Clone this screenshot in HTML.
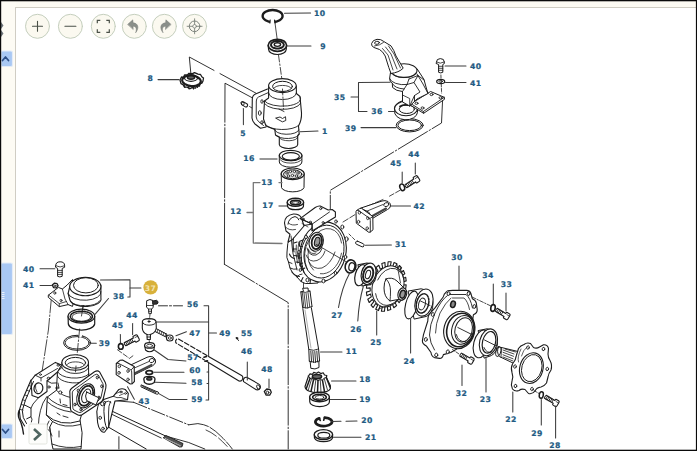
<!DOCTYPE html>
<html><head><meta charset="utf-8"><title>Parts diagram</title>
<style>
html,body{margin:0;padding:0;background:#fff;overflow:hidden}
#wrap{position:relative;width:697px;height:451px;overflow:hidden;background:#fff}
svg{position:absolute;left:0;top:0}
.lb{font-family:"DejaVu Sans","Liberation Sans",sans-serif;font-weight:bold;font-size:7.7px;letter-spacing:0.4px;fill:#225a82;stroke:#225a82;stroke-width:0.22px}
</style></head><body><div id="wrap">
<svg width="697" height="451" viewBox="0 0 697 451" stroke-linecap="round" stroke-linejoin="round">
<rect x="0" y="0" width="697" height="451" fill="#fff"/>
<rect x="0" y="0" width="697" height="7.5" fill="#fcfaf2"/>
<rect x="1" y="7" width="696" height="1" fill="#cfccc2"/>
<rect x="0" y="0" width="15.5" height="451" fill="#fdfbf4"/>
<rect x="15" y="7" width="1" height="444" fill="#d0cdc4"/>
<path d="M1,22 l2.5,3.5 l-2.5,3.5 z M1,30 l2.5,3.5 l-2.5,3.5 z" fill="#6d747a" stroke="none"/>
<rect x="1" y="51" width="11.5" height="15.5" rx="1.5" fill="#a9c8f3" stroke="#e4ecf7" stroke-width="1.2"/>
<polyline points="2.5,60.5 5.5,57 8.5,60.5" fill="none" stroke="#2d4f86" stroke-width="1.7"/>
<rect x="1" y="263" width="11.5" height="71.5" rx="1.5" fill="#a9c8f3" stroke="#e4ecf7" stroke-width="1.2"/>
<rect x="1.5" y="292" width="3" height="1" fill="#e8f0fb"/>
<rect x="1.5" y="294" width="3" height="1" fill="#e8f0fb"/>
<rect x="1.5" y="296" width="3" height="1" fill="#e8f0fb"/>
<rect x="1.5" y="298" width="3" height="1" fill="#e8f0fb"/>
<rect x="1" y="424" width="11.5" height="14.5" rx="1.5" fill="#a9c8f3" stroke="#e4ecf7" stroke-width="1.2"/>
<polyline points="2.5,429.5 5.5,433 8.5,429.5" fill="none" stroke="#2d4f86" stroke-width="1.7"/>
<rect x="0" y="0" width="697" height="1.3" fill="#0a0a0a"/>
<rect x="0" y="0" width="1.2" height="451" fill="#0a0a0a"/>
<rect x="695.9" y="0" width="1.1" height="451" fill="#0a0a0a"/>
<rect x="0" y="449.7" width="697" height="1.3" fill="#0a0a0a"/>
<circle cx="37.5" cy="26.3" r="12" fill="#fbf9f0" stroke="#c5cfbe" stroke-width="1"/>
<circle cx="70.4" cy="26.3" r="12" fill="#fbf9f0" stroke="#c5cfbe" stroke-width="1"/>
<circle cx="103.3" cy="26.3" r="12" fill="#fbf9f0" stroke="#c5cfbe" stroke-width="1"/>
<circle cx="134.3" cy="26.3" r="12" fill="#fbf9f0" stroke="#c5cfbe" stroke-width="1"/>
<circle cx="164.4" cy="26.3" r="12" fill="#fbf9f0" stroke="#c5cfbe" stroke-width="1"/>
<circle cx="194.6" cy="26.3" r="12" fill="#fbf9f0" stroke="#c5cfbe" stroke-width="1"/>
<path d="M32.5,26.3 h10 M37.5,21.3 v10" stroke="#4a5048" stroke-width="1.1" fill="none"/>
<path d="M64.9,26.3 h11" stroke="#4a5048" stroke-width="1.1" fill="none"/>
<path d="M97.3,23.3 v-3 h3 M106.3,20.3 h3 v3 M109.3,29.3 v3 h-3 M100.3,32.3 h-3 v-3" stroke="#4a5048" stroke-width="1.2" fill="none" stroke-linecap="butt" stroke-linejoin="miter"/>
<path d="M127.80000000000001,24.3 l5,-4.5 l0.3,3 c5,0.5 6.5,5 2.5,10 c1.5,-4 0.5,-6.5 -2.6,-6.6 l0.2,3 z" fill="#8a8f8a" stroke="#7a7f7a" stroke-width="0.5"/>
<path d="M170.9,24.3 l-5,-4.5 l-0.3,3 c-5,0.5 -6.5,5 -2.5,10 c-1.5,-4 -0.5,-6.5 2.6,-6.6 l-0.2,3 z" fill="#8a8f8a" stroke="#7a7f7a" stroke-width="0.5"/>
<circle cx="194.6" cy="26.3" r="5.3" fill="none" stroke="#7c827c" stroke-width="1"/>
<circle cx="194.6" cy="26.3" r="1.8" fill="none" stroke="#7c827c" stroke-width="0.8"/>
<path d="M187.1,26.3 h5.5 M196.6,26.3 h5.5 M194.6,18.8 v5.5 M194.6,28.3 v5.5" stroke="#7c827c" stroke-width="0.9" fill="none"/>
<polyline points="191,75 189.3,57 214,70.4" fill="none" stroke="#1c1c1c" stroke-width="0.9"/>
<polyline points="220,73.6 256,93.2" fill="none" stroke="#1c1c1c" stroke-width="0.9"/>
<polyline points="252.3,97.8 225,83.2 224.4,264.3" fill="none" stroke="#1c1c1c" stroke-width="0.9" stroke-dasharray="70 2 1.5 2"/>
<polyline points="224.4,264.3 288.2,302.6 288.2,449" fill="none" stroke="#1c1c1c" stroke-width="0.9" stroke-dasharray="35 2 1.5 2"/>
<ellipse cx="272.6" cy="16" rx="10" ry="6" fill="none" stroke="#1c1c1c" stroke-width="2.3"/>
<rect x="270.2" y="19" width="4.3" height="5" fill="#fff"/>
<path d="M270.2,20 l-0.3,3.2 M274.6,20.3 l0.5,2.8" fill="none" stroke="#1c1c1c" stroke-width="1" />
<line x1="274.6" y1="20" x2="277.2" y2="39.5" stroke="#1c1c1c" stroke-width="0.8"/>
<line x1="284.5" y1="13.3" x2="310.6" y2="13.1" stroke="#3c3c3c" stroke-width="1.05"/>
<path d="M268.2,45.5 L268.6,49.5 A8.8,5 0 0 0 286.2,49.5 L286.6,45.5 Z" fill="#fff" stroke="#1c1c1c" stroke-width="1.2" />
<ellipse cx="277.4" cy="45.3" rx="9.2" ry="6" fill="#fff" stroke="#1c1c1c" stroke-width="1.7"/>
<ellipse cx="277.4" cy="44.8" rx="6.4" ry="3.8" fill="#fff" stroke="#1c1c1c" stroke-width="2" stroke-dasharray="1.8 1"/>
<ellipse cx="277.4" cy="44.6" rx="3.2" ry="1.8" fill="#fff" stroke="#1c1c1c" stroke-width="1.4"/>
<line x1="287" y1="46" x2="311" y2="46" stroke="#3c3c3c" stroke-width="1.05"/>
<line x1="278.5" y1="55" x2="282" y2="80" stroke="#1c1c1c" stroke-width="0.8" stroke-dasharray="7 2 1.5 2"/>
<line x1="158" y1="79.6" x2="179" y2="79.6" stroke="#3c3c3c" stroke-width="1.05"/>
<path d="M180,80 l1.5,-3 l2,0.5 l1,-2.5 l3,0 l1,-1.5 l4,0.2 l2,-1 l3.5,1.5 l2.5,0.3 l1.5,2.5 l1.5,1 l-0.5,3 l-1,2 l-2,0.5 l-0.5,2.5 l-3,0.2 l-1,2 l-3.5,-0.5 l-2,1 l-3,-1.5 l-2.5,0 l-1.5,-2.5 l-2,-1 z" fill="#fff" stroke="#1c1c1c" stroke-width="1.3" />
<ellipse cx="191.5" cy="80.8" rx="9.3" ry="5.2" fill="none" stroke="#1c1c1c" stroke-width="2.2" transform="rotate(5 191.5 80.8)" stroke-dasharray="2.6 1.1"/>
<ellipse cx="191" cy="78" rx="6.5" ry="3.3" fill="none" stroke="#1c1c1c" stroke-width="1.2"/>
<ellipse cx="191" cy="77.5" rx="3.6" ry="1.8" fill="#666" stroke="#1c1c1c" stroke-width="1.4"/>
<path d="M184,85 l1,2.5 M188.5,86.5 l0.5,2.5 M193.5,86.5 l0,2.5 M198,85 l-0.5,2.5 M201,82 l-1,2" fill="none" stroke="#1c1c1c" stroke-width="1.2" />
<path d="M241.6,104.6 l3.8,2.3 a1.7,2 0 0 0 2.1,-2.7 l-3.8,-2.3 a1.7,2 0 0 0 -2.1,2.7 z" fill="#fff" stroke="#1c1c1c" stroke-width="1.1" />
<ellipse cx="242.6" cy="103.3" rx="1.5" ry="2" fill="none" stroke="#1c1c1c" stroke-width="0.8" transform="rotate(-30 242.6 103.3)"/>
<line x1="243.4" y1="108.5" x2="243.4" y2="124.6" stroke="#3c3c3c" stroke-width="1.05"/>
<line x1="249.5" y1="106.5" x2="252" y2="108" stroke="#1c1c1c" stroke-width="0.8"/>
<path d="M267.5,89 L255.5,94 Q252.3,95.5 252.3,99 L252,118 Q252.3,121.5 255,124 L260.5,128.3 L266,127" fill="#fff" stroke="#1c1c1c" stroke-width="1.1" />
<path d="M268.5,92.5 L258.5,97 Q256.3,98 256.3,101 L256.2,117 Q256.5,119.8 258.8,121.8 L263.5,125.5" fill="none" stroke="#1c1c1c" stroke-width="0.9" />
<ellipse cx="259.8" cy="113" rx="1.4" ry="2.3" fill="none" stroke="#1c1c1c" stroke-width="0.9"/>
<ellipse cx="262" cy="122.3" rx="1.2" ry="1.6" fill="none" stroke="#1c1c1c" stroke-width="0.9"/>
<ellipse cx="262" cy="101.5" rx="1.2" ry="1.8" fill="none" stroke="#1c1c1c" stroke-width="0.9"/>
<path d="M268.6,86 L268.6,98 L264.5,101 L263.5,119 L266,126 L274.8,129.5 L275.5,135 L279.3,137 L279.3,144.5 A9.2,4 0 0 0 297.7,144.5 L297.7,135.5 L299.2,134 L298.5,126 Q301.8,120 301.5,113 L300,96.5 L296.4,93.5 L296.3,86 Z" fill="#fff" stroke="#1c1c1c" stroke-width="1.1" />
<ellipse cx="282.4" cy="85.6" rx="13.8" ry="7" fill="#fff" stroke="#1c1c1c" stroke-width="1.1"/>
<ellipse cx="282.5" cy="86.4" rx="9.9" ry="5.1" fill="none" stroke="#1c1c1c" stroke-width="1"/>
<path d="M273.5,88.5 A9.5,4.5 0 0 1 291.5,88.5" fill="none" stroke="#1c1c1c" stroke-width="0.8" />
<path d="M268.6,93 A13.8,6.5 0 0 0 296.4,93" fill="none" stroke="#1c1c1c" stroke-width="0.9" />
<path d="M264.5,101 A18,7 0 0 0 300,97" fill="none" stroke="#1c1c1c" stroke-width="0.9" />
<path d="M265,104 A18,7 0 0 0 300.3,100.5" fill="none" stroke="#1c1c1c" stroke-width="0.9" />
<path d="M266,125 A17,6 0 0 0 298.5,125.5" fill="none" stroke="#1c1c1c" stroke-width="0.9" />
<path d="M274.8,129.5 A12,4.5 0 0 0 298.8,130" fill="none" stroke="#1c1c1c" stroke-width="0.9" />
<path d="M275.5,135 A12,4.5 0 0 0 299.2,134" fill="none" stroke="#1c1c1c" stroke-width="0.9" />
<path d="M279.3,137.5 A9.2,3.5 0 0 0 297.7,137" fill="none" stroke="#1c1c1c" stroke-width="0.8" />
<line x1="282.5" y1="89" x2="283.5" y2="109" stroke="#1c1c1c" stroke-width="0.8" stroke-dasharray="6 2 1.5 2"/>
<path d="M279,109 l5,2.5 M276,118 l4,-1 l2.5,1.5 l3,-1.8 l0.3,3.8 l-3,1.2 z" fill="none" stroke="#1c1c1c" stroke-width="0.9" />
<line x1="300" y1="131.8" x2="318" y2="131" stroke="#3c3c3c" stroke-width="1.05"/>
<line x1="260" y1="159" x2="277" y2="159" stroke="#777" stroke-width="1.3"/>
<path d="M279.3,155.5 L279.3,162 A11.3,5.2 0 0 0 301.9,162 L301.9,155.5" fill="#fff" stroke="#1c1c1c" stroke-width="1" />
<ellipse cx="290.6" cy="155.5" rx="11.3" ry="5.2" fill="#fff" stroke="#1c1c1c" stroke-width="1.2"/>
<ellipse cx="290.8" cy="156.3" rx="8.6" ry="3.7" fill="none" stroke="#1c1c1c" stroke-width="1.1"/>
<path d="M283,158.5 A8.5,3.5 0 0 0 299,158.2" fill="none" stroke="#1c1c1c" stroke-width="0.8" />
<path d="M280,159.5 A11.3,5.2 0 0 0 301.5,159.5" fill="none" stroke="#1c1c1c" stroke-width="0.8" />
<path d="M281.2,173.8 L281.5,187.5 A11.3,4.8 0 0 0 304,187.5 L304.2,173.8" fill="#fff" stroke="#1c1c1c" stroke-width="1" />
<ellipse cx="292.7" cy="173.8" rx="11.5" ry="5.8" fill="#fff" stroke="#1c1c1c" stroke-width="1.2"/>
<ellipse cx="292.7" cy="174.2" rx="9.2" ry="4.4" fill="#ddd" stroke="#1c1c1c" stroke-width="1"/>
<ellipse cx="287" cy="173" rx="1.2" ry="1.2" fill="#fff" stroke="#1c1c1c" stroke-width="0.8"/>
<ellipse cx="290.5" cy="171.5" rx="1.2" ry="1.2" fill="#fff" stroke="#1c1c1c" stroke-width="0.8"/>
<ellipse cx="294.5" cy="171.5" rx="1.2" ry="1.2" fill="#fff" stroke="#1c1c1c" stroke-width="0.8"/>
<ellipse cx="298" cy="173" rx="1.2" ry="1.2" fill="#fff" stroke="#1c1c1c" stroke-width="0.8"/>
<ellipse cx="288.5" cy="176" rx="1.2" ry="1.2" fill="#fff" stroke="#1c1c1c" stroke-width="0.8"/>
<ellipse cx="292.5" cy="175.5" rx="1.2" ry="1.2" fill="#fff" stroke="#1c1c1c" stroke-width="0.8"/>
<ellipse cx="296.5" cy="176" rx="1.2" ry="1.2" fill="#fff" stroke="#1c1c1c" stroke-width="0.8"/>
<line x1="279" y1="182.6" x2="282" y2="182.6" stroke="#777" stroke-width="1.3"/>
<polyline points="260,182.6 253.3,182.6 253.3,243 282,243.5" fill="none" stroke="#777" stroke-width="1.3"/>
<line x1="247" y1="212.5" x2="253.3" y2="212.5" stroke="#777" stroke-width="1.3"/>
<line x1="279" y1="206" x2="288" y2="206" stroke="#777" stroke-width="1.3"/>
<path d="M287.2,202.5 L287.6,206.5 A8,3.8 0 0 0 303.4,206.5 L303.6,202.5" fill="#fff" stroke="#1c1c1c" stroke-width="1.2" />
<ellipse cx="295.4" cy="202.3" rx="8.2" ry="4" fill="#fff" stroke="#1c1c1c" stroke-width="1.4"/>
<ellipse cx="295.6" cy="202.5" rx="5.2" ry="2.3" fill="#888" stroke="#1c1c1c" stroke-width="1.4"/>
<ellipse cx="295.6" cy="202.8" rx="3" ry="1.2" fill="#fff" stroke="#1c1c1c" stroke-width="0.7"/>
<polyline points="442.6,100 441.5,123 330.3,190.3 330.3,210" fill="none" stroke="#1c1c1c" stroke-width="0.9" stroke-dasharray="34 2 1.5 2"/>
<ellipse cx="409.7" cy="125.3" rx="13.5" ry="6.6" fill="#fff" stroke="#1c1c1c" stroke-width="1"/>
<ellipse cx="409.7" cy="125.3" rx="11.8" ry="5.3" fill="none" stroke="#1c1c1c" stroke-width="1"/>
<line x1="361" y1="127.6" x2="396" y2="127.6" stroke="#3c3c3c" stroke-width="1.05"/>
<path d="M394.5,111 A11.5,8 0 0 0 417.5,112.5 L417.5,109 A11.5,8 0 0 0 394.5,108 Z" fill="#fff" stroke="#1c1c1c" stroke-width="1" />
<ellipse cx="406" cy="108.5" rx="11.5" ry="7.2" fill="#fff" stroke="#1c1c1c" stroke-width="1.1"/>
<ellipse cx="406.8" cy="109.2" rx="7.6" ry="4.3" fill="#fff" stroke="#1c1c1c" stroke-width="1"/>
<path d="M400,106.5 A7,3 0 0 1 408,105" fill="none" stroke="#1c1c1c" stroke-width="1.8" />
<line x1="388.5" y1="111.5" x2="395" y2="111.5" stroke="#3c3c3c" stroke-width="1.05"/>
<polyline points="390,82.3 358.5,82.5 358.5,111.5 367,111.5" fill="none" stroke="#3c3c3c" stroke-width="1.05"/>
<line x1="351" y1="97" x2="358.5" y2="97" stroke="#3c3c3c" stroke-width="1.05"/>
<path d="M411,103.7 L430.6,91.5 L444.3,97.3 L444.5,99.3 L423.6,113.3 L411,105.5 Z" fill="#fff" stroke="#1c1c1c" stroke-width="1" />
<polyline points="411,103.7 423.4,111.5 444.3,97.3" fill="none" stroke="#1c1c1c" stroke-width="0.9"/>
<line x1="423.4" y1="111.5" x2="423.6" y2="113.3" stroke="#1c1c1c" stroke-width="0.8"/>
<ellipse cx="416.5" cy="103.3" rx="1.5" ry="1.1" fill="none" stroke="#1c1c1c" stroke-width="0.9"/>
<ellipse cx="422.5" cy="108" rx="1.5" ry="1.1" fill="none" stroke="#1c1c1c" stroke-width="0.9"/>
<ellipse cx="431.5" cy="94.5" rx="1.5" ry="1.1" fill="none" stroke="#1c1c1c" stroke-width="0.9"/>
<ellipse cx="440.5" cy="97.8" rx="1.5" ry="1.1" fill="none" stroke="#1c1c1c" stroke-width="0.9"/>
<path d="M391,69 L389.6,78.5 Q389.5,81.5 392.3,83.5 L392.6,87.5 Q396,91 402.5,91.5 L402.5,102 L409.7,106 L417,99 L428,93.5 L426.3,88 L424,79.5 L417.2,69 Z" fill="#fff" stroke="#1c1c1c" stroke-width="1" />
<ellipse cx="404" cy="70.6" rx="13" ry="6.8" fill="#fff" stroke="#1c1c1c" stroke-width="1.1"/>
<path d="M391.5,72.5 A13,6.8 0 0 0 416,73.5" fill="none" stroke="#1c1c1c" stroke-width="0.9" />
<path d="M389.6,78.5 A14,7 0 0 0 407,84.5" fill="none" stroke="#1c1c1c" stroke-width="0.9" />
<path d="M392.4,83.5 A14,7 0 0 0 404,89" fill="none" stroke="#1c1c1c" stroke-width="0.9" />
<polyline points="409,79 407,84.5 402.5,91.5" fill="none" stroke="#1c1c1c" stroke-width="0.9"/>
<polyline points="409,79 418,75.5 424,80" fill="none" stroke="#1c1c1c" stroke-width="0.9"/>
<polyline points="407,84.5 414,82.5 420,92 414.5,95.5 409.7,106" fill="none" stroke="#1c1c1c" stroke-width="0.9"/>
<polyline points="414,82.5 418,75.5" fill="none" stroke="#1c1c1c" stroke-width="0.9"/>
<polyline points="417,74 423,84 428,93.5" fill="none" stroke="#1c1c1c" stroke-width="0.9"/>
<polyline points="414.5,95.5 414.5,101.5" fill="none" stroke="#1c1c1c" stroke-width="0.9"/>
<polyline points="402.5,95 409.7,98.5 409.7,106" fill="none" stroke="#1c1c1c" stroke-width="0.8"/>
<path d="M391,73.5 L388.8,67.5 L385.2,56 Q383,51.5 379.5,49.5 L374,47.5 Q371,46 371.6,43.5 Q372.5,40 377,39.3 Q381,39 383.8,41.5 L391,45.9 Q394,50 396,56 L403.2,68.2 Q399,72.5 391,73.5 Z" fill="#fff" stroke="#1c1c1c" stroke-width="1" />
<ellipse cx="377" cy="42.8" rx="2.4" ry="1.5" fill="none" stroke="#1c1c1c" stroke-width="0.9" transform="rotate(-10 377 42.8)"/>
<path d="M374.5,46 Q380,45.5 383.5,42.5" fill="none" stroke="#1c1c1c" stroke-width="0.8" />
<polyline points="382.5,48.5 388,55 393,70" fill="none" stroke="#1c1c1c" stroke-width="0.8"/>
<polyline points="385.5,47 391,54 397,69" fill="none" stroke="#1c1c1c" stroke-width="0.8"/>
<polyline points="388.5,46 394,54 400.5,68" fill="none" stroke="#1c1c1c" stroke-width="0.8"/>
<path d="M436.4,62 Q436.4,58.6 440.3,58.6 Q444.3,58.6 444.3,62 L444.3,63.6 L442.8,64.5 L442.8,72.3 Q440.7,73.5 438.6,72.3 L438.6,64.5 L436.4,63.6 Z" fill="#fff" stroke="#1c1c1c" stroke-width="1" />
<path d="M436.4,62 Q440.3,64.5 444.3,62 M438.6,66.3 h4.2 M438.6,68.3 h4.2 M438.6,70.3 h4.2" fill="none" stroke="#1c1c1c" stroke-width="0.8" />
<line x1="445" y1="66" x2="466" y2="66" stroke="#3c3c3c" stroke-width="1.05"/>
<ellipse cx="440.7" cy="81.5" rx="4" ry="2.2" fill="#fff" stroke="#1c1c1c" stroke-width="1.2"/>
<ellipse cx="440.7" cy="81.5" rx="1.8" ry="0.9" fill="none" stroke="#1c1c1c" stroke-width="0.8"/>
<line x1="445.5" y1="82.5" x2="466" y2="82.5" stroke="#3c3c3c" stroke-width="1.05"/>
<line x1="440.9" y1="75" x2="441.6" y2="93" stroke="#1c1c1c" stroke-width="0.8" stroke-dasharray="3 1.5"/>
<path d="M291,236 Q286.5,243 287,252 Q286,258 288.5,262 L290,268 Q292,274 297,277 L301,281.5 Q305,284.5 310,283.5 L318,283 L330,215 L313,224 L300.5,226 Z" fill="#fff" stroke="#1c1c1c" stroke-width="1" />
<ellipse cx="323" cy="252" rx="22.8" ry="30.3" fill="#fff" stroke="#1c1c1c" stroke-width="1.1" transform="rotate(14 323 252)"/>
<ellipse cx="324" cy="251.6" rx="19.6" ry="26.8" fill="none" stroke="#1c1c1c" stroke-width="0.9" transform="rotate(14 324 251.6)"/>
<ellipse cx="325" cy="251.2" rx="16.5" ry="23" fill="none" stroke="#1c1c1c" stroke-width="0.7" transform="rotate(14 325 251.2)" stroke-dasharray="30 8 22 12 40 10"/>
<path d="M284.5,223 Q284.5,215.5 293.5,214 Q299.5,213.8 301.5,218 L304,226 L292,240 L288,242 L290,234.2 L286,231 Z" fill="#fff" stroke="#1c1c1c" stroke-width="1.1" />
<path d="M288,224.2 Q288.5,218 295,216.6 Q298,217 298.8,219.8" fill="none" stroke="#1c1c1c" stroke-width="1" />
<path d="M285.5,227 Q289,231 295.5,229.5 M289,223.5 Q292,226 297.5,224.5" fill="none" stroke="#1c1c1c" stroke-width="0.8" />
<path d="M300.1,218.6 Q307,213.5 315.2,207.5 Q318,205.6 320.2,206 L328.2,210 L332.2,209.5 L335.4,212 L335.4,217 L312.1,231 L312.1,224.1 Z" fill="#fff" stroke="#1c1c1c" stroke-width="1.1" />
<polyline points="300.1,218.6 312.1,224.1 329.5,212" fill="none" stroke="#1c1c1c" stroke-width="0.9"/>
<line x1="312.1" y1="224.1" x2="312.1" y2="230.5" stroke="#1c1c1c" stroke-width="0.95"/>
<polyline points="302,223.5 308,227" fill="none" stroke="#1c1c1c" stroke-width="0.7"/>
<ellipse cx="303.1" cy="219.1" rx="1.1" ry="1" fill="none" stroke="#1c1c1c" stroke-width="0.9"/>
<ellipse cx="310.4" cy="222.2" rx="1.1" ry="1" fill="none" stroke="#1c1c1c" stroke-width="0.9"/>
<ellipse cx="320.7" cy="208.6" rx="1.1" ry="1" fill="none" stroke="#1c1c1c" stroke-width="0.9"/>
<ellipse cx="323.2" cy="222.6" rx="1.1" ry="1" fill="none" stroke="#1c1c1c" stroke-width="0.9"/>
<path d="M307,236.5 Q301,246 301,254 Q301,264 304,272.5" fill="none" stroke="#1c1c1c" stroke-width="1" />
<path d="M309.5,239 Q304.5,247 304.5,255 Q304.5,263 307.5,270" fill="none" stroke="#1c1c1c" stroke-width="0.8" />
<path d="M309,262 Q313,270 322,268 Q331,264 335,252" fill="none" stroke="#1c1c1c" stroke-width="0.8" />
<ellipse cx="316.2" cy="241.8" rx="7" ry="9.6" fill="#fff" stroke="#1c1c1c" stroke-width="1.1" transform="rotate(14 316.2 241.8)"/>
<ellipse cx="316.8" cy="241.8" rx="5" ry="7.4" fill="#fff" stroke="#1c1c1c" stroke-width="1.8" transform="rotate(14 316.8 241.8)"/>
<ellipse cx="317.2" cy="241.8" rx="2.6" ry="4.6" fill="#999" stroke="#1c1c1c" stroke-width="1.2" transform="rotate(14 317.2 241.8)"/>
<path d="M307,248 Q309,256.5 316,255 Q321,253 322,248.5" fill="none" stroke="#1c1c1c" stroke-width="0.9" />
<path d="M309,250.5 Q311,255 316,253" fill="none" stroke="#1c1c1c" stroke-width="0.8" />
<path d="M306,255 Q309,263 317,260.5 Q323,258 325,251" fill="none" stroke="#1c1c1c" stroke-width="0.8" />
<path d="M303,240 l-3.2,1.2 l-0.3,5 l3,0.3 M300.8,252 l-3,1 l0.5,5.2 l3.2,-0.4 M302.5,263 l-2.5,1.8 l2,4.6 l2.8,-1.4" fill="none" stroke="#1c1c1c" stroke-width="1.1" />
<path d="M298.8,242 Q296.8,252 300,266 M296.3,245 Q295,253 297.5,263" fill="none" stroke="#1c1c1c" stroke-width="0.8" />
<path d="M291,236 Q291.5,252 297,270 M288.5,262 L292,263.5 M290,268 Q294,270 297,269 M297,277 Q299,274 302,274" fill="none" stroke="#1c1c1c" stroke-width="0.9" />
<path d="M293.5,238 Q292.5,246 294,252 M289.5,254 Q291,258 294.5,258.5 M292,272 Q295,276 299.5,276.5 M301,281.5 L303,277.5 M310,283.5 L310.5,279.5" fill="none" stroke="#1c1c1c" stroke-width="1.1" />
<path d="M294,243 l3,-1 M293.3,249 l3,0 M294.5,255.5 l3,0.5 M296,262 l3,0.3" fill="none" stroke="#1c1c1c" stroke-width="1.2" />
<ellipse cx="307.5" cy="280" rx="1.6" ry="1.9" fill="#fff" stroke="#1c1c1c" stroke-width="0.9"/>
<ellipse cx="323.5" cy="281" rx="1.6" ry="1.9" fill="#fff" stroke="#1c1c1c" stroke-width="0.9"/>
<ellipse cx="346.6" cy="239" rx="1.5" ry="2.2" fill="#fff" stroke="#1c1c1c" stroke-width="0.9"/>
<ellipse cx="342.3" cy="227" rx="1.5" ry="2" fill="#fff" stroke="#1c1c1c" stroke-width="0.9"/>
<ellipse cx="336" cy="221.5" rx="1.3" ry="1.6" fill="#fff" stroke="#1c1c1c" stroke-width="0.9"/>
<ellipse cx="306" cy="237" rx="1.4" ry="1.8" fill="#fff" stroke="#1c1c1c" stroke-width="0.9"/>
<ellipse cx="345.5" cy="257" rx="1.3" ry="1.8" fill="#fff" stroke="#1c1c1c" stroke-width="0.9"/>
<ellipse cx="335.5" cy="273" rx="1.3" ry="1.6" fill="#fff" stroke="#1c1c1c" stroke-width="0.9"/>
<ellipse cx="300.3" cy="270" rx="1.2" ry="1.5" fill="#fff" stroke="#1c1c1c" stroke-width="0.9"/>
<ellipse cx="299" cy="252" rx="1.2" ry="1.6" fill="#fff" stroke="#1c1c1c" stroke-width="0.9"/>
<line x1="316.5" y1="244.5" x2="348" y2="262.8" stroke="#1c1c1c" stroke-width="0.8"/>
<line x1="303.5" y1="283" x2="303.5" y2="288" stroke="#1c1c1c" stroke-width="0.8"/>
<polyline points="343,222 356,214" fill="none" stroke="#1c1c1c" stroke-width="0.8" stroke-dasharray="6 2"/>
<polyline points="362,208.5 383,199.5" fill="none" stroke="#1c1c1c" stroke-width="0.8" stroke-dasharray="9 2 1.5 2"/>
<path d="M361,208 L382,201 Q385,200 388,201.5 Q391,203.5 390.5,206 Q390,208.5 387.5,209.5 L372.4,218.5 L369,212.5 Z" fill="#fff" stroke="#1c1c1c" stroke-width="1" />
<ellipse cx="386.3" cy="204.6" rx="2.6" ry="1.9" fill="none" stroke="#1c1c1c" stroke-width="0.9" transform="rotate(-20 386.3 204.6)"/>
<polyline points="366,211.5 383,204.5" fill="none" stroke="#1c1c1c" stroke-width="0.8"/>
<polyline points="371.5,216.5 386,208.5" fill="none" stroke="#444" stroke-width="2"/>
<path d="M356.8,210.4 L359.5,208.6 L361.5,208.3 L372.8,216.5 L373,229.8 L370.3,232 L368.8,232.3 L356.3,223.2 L356,212 Z" fill="#fff" stroke="#1c1c1c" stroke-width="1" />
<path d="M356.8,210.4 Q358,210 359,210.8 L369.5,218.3 Q370.4,219 370.3,220.5 L370.3,232 M369.8,218.6 L372.8,216.5" fill="none" stroke="#1c1c1c" stroke-width="0.9" />
<ellipse cx="359.4" cy="212.7" rx="1.2" ry="1.5" fill="none" stroke="#1c1c1c" stroke-width="0.8"/>
<ellipse cx="367.8" cy="218.2" rx="1.2" ry="1.5" fill="none" stroke="#1c1c1c" stroke-width="0.8"/>
<ellipse cx="358.6" cy="221.8" rx="1.2" ry="1.5" fill="none" stroke="#1c1c1c" stroke-width="0.8"/>
<ellipse cx="367.2" cy="228.3" rx="1.2" ry="1.5" fill="none" stroke="#1c1c1c" stroke-width="0.8"/>
<line x1="390.8" y1="206" x2="410.5" y2="206" stroke="#3c3c3c" stroke-width="1.05"/>
<polyline points="349,234 356,241" fill="none" stroke="#1c1c1c" stroke-width="0.8" stroke-dasharray="3 2"/>
<path d="M357.6,241.2 l5.8,2.6 a1.4,1.7 0 0 1 -1.3,3 l-5.8,-2.6 a1.4,1.7 0 0 1 1.3,-3 z" fill="#fff" stroke="#1c1c1c" stroke-width="1" />
<line x1="365.5" y1="245.3" x2="391.4" y2="245" stroke="#3c3c3c" stroke-width="1.05"/>
<line x1="415.3" y1="163" x2="415.3" y2="174" stroke="#3c3c3c" stroke-width="1.05"/>
<line x1="402.2" y1="172" x2="402.2" y2="183" stroke="#3c3c3c" stroke-width="1.05"/>
<g transform="translate(405.8 186.3) rotate(-33.2)"><path d="M0,-1.7 L10.6,-1.7 L10.6,-2.5 Q10.6,-3.3 11.4,-3.3 L14.0,-3.3 Q15.2,-3.3 15.2,-1.9 L15.2,1.9 Q15.2,3.3 14.0,3.3 L11.4,3.3 Q10.6,3.3 10.6,2.5 L10.6,1.7 L0,1.7 Q-0.8,0 0,-1.7 Z" fill="#fff" stroke="#1c1c1c" stroke-width="1.1"/><path d="M1.6,-1.7 L1.6,1.7 M3.3,-1.7 L3.3,1.7 M5.0,-1.7 L5.0,1.7 M6.7,-1.7 L6.7,1.7 M8.4,-1.7 L8.4,1.7" fill="none" stroke="#1c1c1c" stroke-width="0.8"/><path d="M12.2,-1.2999999999999998 L15.2,-1.2999999999999998" fill="none" stroke="#1c1c1c" stroke-width="0.7"/></g>
<ellipse cx="402.2" cy="187.3" rx="2.3" ry="3.4" fill="#fff" stroke="#1c1c1c" stroke-width="1.5" transform="rotate(-20 402.2 187.3)"/>
<polyline points="400,190.3 388,197" fill="none" stroke="#1c1c1c" stroke-width="0.8" stroke-dasharray="5 2"/>
<ellipse cx="350.5" cy="266.4" rx="5.3" ry="6.6" fill="#fff" stroke="#1c1c1c" stroke-width="1.6" transform="rotate(12 350.5 266.4)"/>
<ellipse cx="351.8" cy="266.8" rx="2.9" ry="4.1" fill="#fff" stroke="#1c1c1c" stroke-width="1.2" transform="rotate(12 351.8 266.8)"/>
<path d="M349.5,273.5 Q342,287 338.5,307.5" fill="none" stroke="#3c3c3c" stroke-width="1.05" />
<line x1="354.5" y1="268.5" x2="357.5" y2="270.2" stroke="#1c1c1c" stroke-width="0.8"/>
<polygon points="404.7,292.5 403.2,296.2 400.0,294.3 398.5,297.1 401.3,299.6 399.1,302.7 396.7,299.7 394.6,301.9 396.6,305.5 393.8,307.7 392.3,303.7 389.9,305.1 390.8,309.5 387.7,310.6 387.4,306.1 384.9,306.5 384.5,311.2 381.4,311.2 382.4,306.5 380.0,306.0 378.5,310.6 375.7,309.3 377.7,305.0 375.7,303.5 373.2,307.5 371.0,305.2 373.9,301.7 372.4,299.4 369.2,302.5 367.8,299.3 371.3,296.9 370.5,294.0 366.9,295.8 366.4,292.1 370.2,291.0 370.2,287.9 366.4,288.3 366.9,284.4 370.6,284.8 371.4,281.7 367.9,280.5 369.4,276.8 372.6,278.7 374.1,275.9 371.3,273.4 373.5,270.3 375.9,273.3 378.0,271.1 376.0,267.5 378.8,265.3 380.3,269.3 382.7,267.9 381.8,263.5 384.9,262.4 385.2,266.9 387.7,266.5 388.1,261.8 391.2,261.8 390.2,266.5 392.6,267.0 394.1,262.4 396.9,263.7 394.9,268.0 396.9,269.5 399.4,265.5 401.6,267.8 398.7,271.3 400.2,273.6 403.4,270.5 404.8,273.7 401.3,276.1 402.1,279.0 405.7,277.2 406.2,280.9 402.4,282.0 402.4,285.1 406.2,284.7 405.7,288.6 402.0,288.2 401.2,291.3" fill="#fff" stroke="#1c1c1c" stroke-width="1.1"/>
<ellipse cx="388" cy="286.4" rx="15.4" ry="21" fill="#fff" stroke="#1c1c1c" stroke-width="1" transform="rotate(18 388 286.4)"/>
<ellipse cx="389.5" cy="286.8" rx="13.5" ry="19" fill="none" stroke="#1c1c1c" stroke-width="0.8" transform="rotate(18 389.5 286.8)" stroke-dasharray="40 14 30 20"/>
<path d="M386,279 Q392,276.5 397,281 L404.5,288.5 Q407.5,293.5 405,298.5 Q402,301.5 398,299.5 L390,301 Q384,297 384,288 Q384,282 386,279 Z" fill="#fff" stroke="#1c1c1c" stroke-width="1" />
<path d="M386,279 Q390.5,283 390.5,291 Q390.5,297 390,301" fill="none" stroke="#1c1c1c" stroke-width="0.9" />
<ellipse cx="402.3" cy="294" rx="4.3" ry="6.2" fill="#fff" stroke="#1c1c1c" stroke-width="1.1" transform="rotate(15 402.3 294)"/>
<ellipse cx="402.6" cy="294.2" rx="2.6" ry="4" fill="#999" stroke="#1c1c1c" stroke-width="1.5" transform="rotate(15 402.6 294.2)"/>
<path d="M397,264.5 L400.5,283 M399.5,265.5 L404,280" fill="none" stroke="#1c1c1c" stroke-width="0.8" />
<path d="M378.5,309 L392,304" fill="none" stroke="#1c1c1c" stroke-width="0.8" />
<line x1="376.7" y1="311" x2="376.7" y2="335" stroke="#3c3c3c" stroke-width="1.05"/>
<path d="M358,264.8 L367,263 Q376.3,263.8 376.3,273 Q376.3,282.5 370.3,284.5 L362,286 Z" fill="#fff" stroke="#1c1c1c" stroke-width="1.1" />
<ellipse cx="360.8" cy="275.2" rx="5.6" ry="10.8" fill="#fff" stroke="#1c1c1c" stroke-width="1.2" transform="rotate(15 360.8 275.2)"/>
<ellipse cx="368.6" cy="273.8" rx="7.2" ry="10.9" fill="#fff" stroke="#1c1c1c" stroke-width="1.2" transform="rotate(15 368.6 273.8)"/>
<ellipse cx="368.2" cy="274.3" rx="4.8" ry="7.8" fill="none" stroke="#1c1c1c" stroke-width="2" transform="rotate(15 368.2 274.3)" stroke-dasharray="2 1"/>
<ellipse cx="368" cy="274.5" rx="2.4" ry="4.4" fill="none" stroke="#1c1c1c" stroke-width="1" transform="rotate(15 368 274.5)"/>
<path d="M363.3,286.5 Q359,301 357.8,321" fill="none" stroke="#3c3c3c" stroke-width="1.05" />
<path d="M408.5,291 L421,288.8 Q433,290 433,302.5 Q433,314.5 426,316.5 L414.5,319 Z" fill="#fff" stroke="#1c1c1c" stroke-width="1" />
<ellipse cx="411.5" cy="305" rx="6" ry="14.2" fill="#fff" stroke="#1c1c1c" stroke-width="1.1" transform="rotate(14 411.5 305)"/>
<ellipse cx="424" cy="302.6" rx="8.8" ry="13.8" fill="#fff" stroke="#1c1c1c" stroke-width="1.1" transform="rotate(14 424 302.6)"/>
<ellipse cx="422.6" cy="303.4" rx="6" ry="9.8" fill="none" stroke="#1c1c1c" stroke-width="1.5" transform="rotate(14 422.6 303.4)" stroke-dasharray="2.2 1.1"/>
<ellipse cx="422" cy="304" rx="3.3" ry="6" fill="none" stroke="#1c1c1c" stroke-width="1" transform="rotate(14 422 304)"/>
<path d="M420.5,301 L430,305.5" fill="none" stroke="#1c1c1c" stroke-width="0.9" />
<line x1="410.6" y1="318.5" x2="410.6" y2="353" stroke="#3c3c3c" stroke-width="1.05"/>
<path d="M446.1,292.2 Q447.5,290 450,290.6 L452.7,290.4 L465.8,290.4 Q469.5,290 470.8,293.2 L472.4,298.8 Q476,300.5 476.4,303.5 L477.2,309.5 Q477.5,313 473.4,314.8 L470,340 L455.5,349.7 L450.8,352.5 L443.4,354.6 Q442.5,358.5 439.5,358.4 L434.5,357.6 Q431.5,356.5 431,352.5 L426.3,345.9 Q422,344 422.4,340.3 L423.5,334.6 L427.8,321 Q427.8,315 430.3,313 L434.8,308.2 L443.2,297 Q444,293.5 446.1,292.2 Z" fill="#fff" stroke="#1c1c1c" stroke-width="1.1" />
<path d="M447.5,295.5 Q441,300 435,313 Q429.5,325 429.5,335 Q430,343 434.5,350 M449.5,294.5 L466,294.5 Q470.5,298 472.5,308" fill="none" stroke="#1c1c1c" stroke-width="0.9" />
<path d="M451,298 Q445.5,302.5 440,313 Q435.5,324 435.5,333 M452.5,298 L464,298 Q468,301.5 469.5,309.5" fill="none" stroke="#1c1c1c" stroke-width="0.8" />
<ellipse cx="448.6" cy="293.6" rx="1.5" ry="1.9" fill="#fff" stroke="#1c1c1c" stroke-width="0.9" transform="rotate(15 448.6 293.6)"/>
<ellipse cx="468.6" cy="293.6" rx="1.5" ry="1.9" fill="#fff" stroke="#1c1c1c" stroke-width="0.9" transform="rotate(15 468.6 293.6)"/>
<ellipse cx="474.4" cy="306.5" rx="1.5" ry="1.9" fill="#fff" stroke="#1c1c1c" stroke-width="0.9" transform="rotate(15 474.4 306.5)"/>
<ellipse cx="432.8" cy="314.5" rx="1.5" ry="1.9" fill="#fff" stroke="#1c1c1c" stroke-width="0.9" transform="rotate(15 432.8 314.5)"/>
<ellipse cx="425.8" cy="339.5" rx="1.5" ry="1.9" fill="#fff" stroke="#1c1c1c" stroke-width="0.9" transform="rotate(15 425.8 339.5)"/>
<ellipse cx="436.3" cy="355" rx="1.5" ry="1.9" fill="#fff" stroke="#1c1c1c" stroke-width="0.9" transform="rotate(15 436.3 355)"/>
<ellipse cx="447.8" cy="351.8" rx="1.5" ry="1.9" fill="#fff" stroke="#1c1c1c" stroke-width="0.9" transform="rotate(15 447.8 351.8)"/>
<ellipse cx="453" cy="304.3" rx="2.3" ry="3.3" fill="#888" stroke="#1c1c1c" stroke-width="1.5" transform="rotate(15 453 304.3)"/>
<ellipse cx="459.3" cy="330" rx="15.4" ry="18.9" fill="#fff" stroke="#1c1c1c" stroke-width="1.1" transform="rotate(15 459.3 330)"/>
<ellipse cx="460.4" cy="330" rx="13.5" ry="17" fill="none" stroke="#1c1c1c" stroke-width="1.6" transform="rotate(15 460.4 330)"/>
<ellipse cx="462.6" cy="329.8" rx="10.8" ry="14.6" fill="#fff" stroke="#1c1c1c" stroke-width="1" transform="rotate(15 462.6 329.8)"/>
<ellipse cx="463.6" cy="329.8" rx="8.6" ry="12.3" fill="none" stroke="#1c1c1c" stroke-width="1" transform="rotate(15 463.6 329.8)"/>
<path d="M456.3,334.5 Q458.3,342.5 465.3,341.5 M457.8,327.5 L471.8,334.5" fill="none" stroke="#1c1c1c" stroke-width="0.9" />
<line x1="459" y1="266" x2="459" y2="290" stroke="#3c3c3c" stroke-width="1.05"/>
<polyline points="472,297 490.5,305.8" fill="none" stroke="#1c1c1c" stroke-width="0.8" stroke-dasharray="4 1.5 1.5 1.5"/>
<line x1="493.3" y1="284" x2="493.3" y2="304" stroke="#3c3c3c" stroke-width="1.05"/>
<line x1="506" y1="293" x2="506" y2="311" stroke="#3c3c3c" stroke-width="1.05"/>
<ellipse cx="493" cy="308" rx="2.2" ry="3.4" fill="#fff" stroke="#1c1c1c" stroke-width="1.6" transform="rotate(10 493 308)"/>
<g transform="translate(496.3 309.8) rotate(31.0)"><path d="M0,-1.7 L10.0,-1.7 L10.0,-2.5 Q10.0,-3.3 10.8,-3.3 L13.4,-3.3 Q14.6,-3.3 14.6,-1.9 L14.6,1.9 Q14.6,3.3 13.4,3.3 L10.8,3.3 Q10.0,3.3 10.0,2.5 L10.0,1.7 L0,1.7 Q-0.8,0 0,-1.7 Z" fill="#fff" stroke="#1c1c1c" stroke-width="1.1"/><path d="M1.6,-1.7 L1.6,1.7 M3.3,-1.7 L3.3,1.7 M5.0,-1.7 L5.0,1.7 M6.7,-1.7 L6.7,1.7" fill="none" stroke="#1c1c1c" stroke-width="0.8"/><path d="M11.6,-1.2999999999999998 L14.6,-1.2999999999999998" fill="none" stroke="#1c1c1c" stroke-width="0.7"/></g>
<g transform="translate(460.6 354.6) rotate(30.1)"><path d="M0,-1.7 L9.7,-1.7 L9.7,-2.5 Q9.7,-3.3 10.5,-3.3 L13.1,-3.3 Q14.3,-3.3 14.3,-1.9 L14.3,1.9 Q14.3,3.3 13.1,3.3 L10.5,3.3 Q9.7,3.3 9.7,2.5 L9.7,1.7 L0,1.7 Q-0.8,0 0,-1.7 Z" fill="#fff" stroke="#1c1c1c" stroke-width="1.1"/><path d="M1.6,-1.7 L1.6,1.7 M3.3,-1.7 L3.3,1.7 M5.0,-1.7 L5.0,1.7 M6.7,-1.7 L6.7,1.7" fill="none" stroke="#1c1c1c" stroke-width="0.8"/><path d="M11.3,-1.2999999999999998 L14.3,-1.2999999999999998" fill="none" stroke="#1c1c1c" stroke-width="0.7"/></g>
<line x1="462" y1="365" x2="462" y2="385.5" stroke="#3c3c3c" stroke-width="1.05"/>
<polyline points="452.5,349.5 459,354" fill="none" stroke="#1c1c1c" stroke-width="0.8" stroke-dasharray="3 1.5"/>
<path d="M478.5,330.5 L487,328.8 Q497.5,329.5 497.5,341.5 Q497.5,352.5 491.5,355.5 L484.5,358 Z" fill="#fff" stroke="#1c1c1c" stroke-width="1" />
<ellipse cx="481.3" cy="343.9" rx="7.6" ry="14.2" fill="#fff" stroke="#1c1c1c" stroke-width="1.1" transform="rotate(14 481.3 343.9)"/>
<ellipse cx="488.4" cy="342.3" rx="8.8" ry="13.6" fill="#fff" stroke="#1c1c1c" stroke-width="1.1" transform="rotate(14 488.4 342.3)"/>
<ellipse cx="489" cy="342.3" rx="6.5" ry="11" fill="none" stroke="#1c1c1c" stroke-width="1.2" transform="rotate(14 489 342.3)"/>
<path d="M484,347.5 Q486.5,354 492,352 M484.5,340 L495.5,345.5" fill="none" stroke="#1c1c1c" stroke-width="0.9" />
<line x1="486" y1="358.5" x2="486" y2="392" stroke="#3c3c3c" stroke-width="1.05"/>
<path d="M498.6,346.8 L518,351.5 L514,363.5 L499.5,356.6 Q496,352 498.6,346.8 Z" fill="#fff" stroke="#1c1c1c" stroke-width="1" />
<ellipse cx="498.4" cy="351.6" rx="2.4" ry="5" fill="none" stroke="#1c1c1c" stroke-width="0.9" transform="rotate(15 498.4 351.6)"/>
<path d="M501.5,348.3 L501,357.3 M503,350 L514,354 M503,352.3 L513.5,356.3 M503,354.8 L513,358.8 M503,357 L513,361 M505,349 L515.5,352" fill="none" stroke="#1c1c1c" stroke-width="0.8" />
<path d="M524,344.5 Q527,342 530.5,343.5 L533.5,347.5 Q536.5,349 539.5,347 L543.5,344.8 Q547.5,344.5 548.5,348.5 L548,354 Q548,357.5 550,360.5 Q552.5,365 551,370 Q548.5,373.5 548,377 L546.5,383 Q544,386.5 541,387 Q536.5,387.5 535,391 Q532.5,394.5 528.5,393.5 L525,389.5 Q521.5,388.5 519,390.5 Q515,392 512.5,389 Q510.5,385 512,381 Q513.5,376.5 512,372.5 Q510.5,368 512.5,364 Q516,360 516.5,355 L518.5,348.5 Q520.5,345.5 524,344.5 Z" fill="#fff" stroke="#1c1c1c" stroke-width="1.1" />
<ellipse cx="531.4" cy="368.1" rx="11.6" ry="15.6" fill="none" stroke="#1c1c1c" stroke-width="1.1" transform="rotate(16 531.4 368.1)"/>
<ellipse cx="531.8" cy="368.1" rx="10" ry="13.8" fill="none" stroke="#1c1c1c" stroke-width="0.9" transform="rotate(16 531.8 368.1)"/>
<path d="M521,349 Q517,357 518.5,362 M527,347 Q523,350 521.5,356" fill="none" stroke="#1c1c1c" stroke-width="0.7" />
<ellipse cx="528" cy="347.5" rx="1.3" ry="1.7" fill="#fff" stroke="#1c1c1c" stroke-width="0.9" transform="rotate(15 528 347.5)"/>
<ellipse cx="543.5" cy="349" rx="1.3" ry="1.7" fill="#fff" stroke="#1c1c1c" stroke-width="0.9" transform="rotate(15 543.5 349)"/>
<ellipse cx="547.3" cy="369" rx="1.3" ry="1.7" fill="#fff" stroke="#1c1c1c" stroke-width="0.9" transform="rotate(15 547.3 369)"/>
<ellipse cx="532" cy="389" rx="1.3" ry="1.7" fill="#fff" stroke="#1c1c1c" stroke-width="0.9" transform="rotate(15 532 389)"/>
<ellipse cx="515.5" cy="386" rx="1.3" ry="1.7" fill="#fff" stroke="#1c1c1c" stroke-width="0.9" transform="rotate(15 515.5 386)"/>
<ellipse cx="515" cy="366.5" rx="1.3" ry="1.7" fill="#fff" stroke="#1c1c1c" stroke-width="0.9" transform="rotate(15 515 366.5)"/>
<line x1="512.8" y1="392" x2="512.8" y2="412" stroke="#3c3c3c" stroke-width="1.05"/>
<polyline points="534,390.5 539,393.5" fill="none" stroke="#1c1c1c" stroke-width="0.8" stroke-dasharray="3 1.5"/>
<ellipse cx="541.3" cy="395" rx="2" ry="3.3" fill="#fff" stroke="#1c1c1c" stroke-width="1.5" transform="rotate(10 541.3 395)"/>
<g transform="translate(545.3 396.8) rotate(30.2)"><path d="M0,-1.7 L10.1,-1.7 L10.1,-2.5 Q10.1,-3.3 10.9,-3.3 L13.5,-3.3 Q14.7,-3.3 14.7,-1.9 L14.7,1.9 Q14.7,3.3 13.5,3.3 L10.9,3.3 Q10.1,3.3 10.1,2.5 L10.1,1.7 L0,1.7 Q-0.8,0 0,-1.7 Z" fill="#fff" stroke="#1c1c1c" stroke-width="1.1"/><path d="M1.6,-1.7 L1.6,1.7 M3.3,-1.7 L3.3,1.7 M5.0,-1.7 L5.0,1.7 M6.7,-1.7 L6.7,1.7 M8.4,-1.7 L8.4,1.7" fill="none" stroke="#1c1c1c" stroke-width="0.8"/><path d="M11.7,-1.2999999999999998 L14.7,-1.2999999999999998" fill="none" stroke="#1c1c1c" stroke-width="0.7"/></g>
<line x1="541.3" y1="399.5" x2="541.3" y2="425" stroke="#3c3c3c" stroke-width="1.05"/>
<line x1="555.6" y1="406" x2="555.6" y2="438" stroke="#3c3c3c" stroke-width="1.05"/>
<path d="M303,288.3 L308,288 L308.3,291 L310,291 L312,306.5 L311.3,307.5 L318.6,349 L319.6,361 L318.9,361.3 L319,367.5 Q315,370 310.8,368.3 L310.2,361.8 L309.3,361.3 L308.8,349.5 L302.8,308.5 L302.6,307.5 L300.8,291.8 L303.2,291.5 Z" fill="#fff" stroke="#1c1c1c" stroke-width="1" />
<path d="M300.8,291.8 Q305.5,293.5 310,291 M302.6,307.5 Q307,309 312,306.5 M302.3,292.5 L304,307.8 M304,293 L305.8,308.3 M306,293 L307.8,308.3 M308,292.5 L309.8,307.5" fill="none" stroke="#1c1c1c" stroke-width="0.8" />
<path d="M308.8,349.5 Q313.5,351.5 318.6,349 M309.3,361.3 Q314.5,363.5 319.6,361 M310.8,351 L311.6,362 M312.8,351.5 L313.6,362.5 M314.8,351.5 L315.6,362.5 M316.8,351 L317.6,362" fill="none" stroke="#1c1c1c" stroke-width="0.9" />
<path d="M305,310 L311,348" fill="none" stroke="#777" stroke-width="0.6" />
<line x1="320.5" y1="352" x2="342" y2="352" stroke="#3c3c3c" stroke-width="1.05"/>
<path d="M308.5,376 L310,373.8 L312.3,374.3 L313.8,372.4 L316.5,373.3 L318.5,372 L320.8,373.6 L323.2,372.8 L324.5,375 L326.8,375.5 L326.3,377.6 L330.3,385.5 L330.4,388.5 Q329,391.5 324,392 Q317,394 309.5,391.3 Q305.3,390 305,386.5 Z" fill="#fff" stroke="#1c1c1c" stroke-width="1.2" />
<path d="M308.5,376 L310,378.5 L312,378 L313.5,380 L316,379.3 L318,380.6 L320.5,379.5 L322.5,380.3 L324,378.2 L326.3,377.6" fill="none" stroke="#1c1c1c" stroke-width="1" />
<ellipse cx="317" cy="376.6" rx="4.6" ry="2.1" fill="#666" stroke="#1c1c1c" stroke-width="1.5"/>
<path d="M310,378.5 L306.3,388.5 M313.5,380 L311,391.3 M318,380.6 L317.5,392.6 M322.5,380.3 L324.5,391.6 M326.3,377.6 L330,387" fill="none" stroke="#1c1c1c" stroke-width="1.5" />
<path d="M311.6,379 L308.3,390 M315.8,380 L314.3,392 M320.3,380.3 L321,392.2 M324.3,378.8 L327.5,390" fill="none" stroke="#1c1c1c" stroke-width="0.8" />
<line x1="331.5" y1="381" x2="356" y2="381" stroke="#3c3c3c" stroke-width="1.05"/>
<path d="M309.6,397 L309.8,402 A9.8,4.6 0 0 0 329.4,402 L329.4,397" fill="#fff" stroke="#1c1c1c" stroke-width="1.2" />
<ellipse cx="319.5" cy="397" rx="9.9" ry="4.7" fill="#fff" stroke="#1c1c1c" stroke-width="1.4"/>
<ellipse cx="319.5" cy="397.2" rx="6.8" ry="3" fill="#fff" stroke="#1c1c1c" stroke-width="1.6" stroke-dasharray="2 1"/>
<ellipse cx="319.5" cy="397.3" rx="4.2" ry="1.8" fill="none" stroke="#1c1c1c" stroke-width="0.9"/>
<line x1="330" y1="399.5" x2="356" y2="399.5" stroke="#3c3c3c" stroke-width="1.05"/>
<path d="M319.3,418.3 A8.3,4.2 0 1 0 324.8,417.7" fill="none" stroke="#1c1c1c" stroke-width="2.7" />
<path d="M319,418.2 l1.3,2.3 M324.5,417.6 l-0.8,2.6" fill="none" stroke="#1c1c1c" stroke-width="1.6" />
<line x1="331.5" y1="421.5" x2="341" y2="421.3" stroke="#3c3c3c" stroke-width="1.05"/>
<line x1="346" y1="421.2" x2="357" y2="421" stroke="#3c3c3c" stroke-width="1.05"/>
<path d="M314.3,435 L314.5,438 A9.2,4.6 0 0 0 332.5,438 L332.6,435" fill="#fff" stroke="#1c1c1c" stroke-width="1.2" />
<ellipse cx="323.4" cy="434.6" rx="9.2" ry="5" fill="#fff" stroke="#1c1c1c" stroke-width="1.4"/>
<ellipse cx="323.8" cy="435.2" rx="6" ry="2.9" fill="none" stroke="#1c1c1c" stroke-width="1.2"/>
<line x1="333.5" y1="437.2" x2="361" y2="437.2" stroke="#3c3c3c" stroke-width="1.05"/>
<line x1="40" y1="268.8" x2="54.8" y2="268.8" stroke="#3c3c3c" stroke-width="1.05"/>
<path d="M55.7,265.5 Q55.7,261.8 60.1,261.8 Q64.6,261.8 64.6,265.5 L64.6,267.3 L62.2,268.4 L62.2,276.3 Q59.8,277.6 57.6,276.3 L57.6,268.4 L55.7,267.3 Z" fill="#fff" stroke="#1c1c1c" stroke-width="1" />
<path d="M55.7,265.8 Q60,268.3 64.6,265.8 M57.6,270.4 h4.6 M57.6,272.4 h4.6 M57.6,274.4 h4.6" fill="none" stroke="#1c1c1c" stroke-width="0.8" />
<line x1="40" y1="285.5" x2="51.5" y2="285.5" stroke="#3c3c3c" stroke-width="1.05"/>
<path d="M52.3,285 l2,-1.8 l2.8,0.5 l1,2 l-1.6,2.2 l-3,-0.3 z" fill="#fff" stroke="#1c1c1c" stroke-width="1.3" />
<ellipse cx="55" cy="285.8" rx="1" ry="0.8" fill="none" stroke="#1c1c1c" stroke-width="0.8"/>
<polyline points="51.5,297 48.4,330 41.5,375" fill="none" stroke="#1c1c1c" stroke-width="0.8" stroke-dasharray="16 2 1.5 2"/>
<path d="M48.6,295 L58.4,287.4 L62.4,289 L67.2,285 L72.5,279.5 L72.5,300 L73.4,302.5 L72.5,306.4 L68.1,304.6 L59.3,306.6 L48.6,297.6 Z" fill="#fff" stroke="#1c1c1c" stroke-width="1" />
<polyline points="48.6,295 59.3,303.6 66.5,301.5" fill="none" stroke="#1c1c1c" stroke-width="0.8"/>
<polyline points="59.3,303.6 59.3,306.6" fill="none" stroke="#1c1c1c" stroke-width="0.8"/>
<polyline points="62.4,289 65,299 68.1,304.6" fill="none" stroke="#1c1c1c" stroke-width="0.8"/>
<ellipse cx="54.8" cy="293" rx="1" ry="1.3" fill="none" stroke="#1c1c1c" stroke-width="0.8"/>
<ellipse cx="61" cy="300.5" rx="1" ry="1.2" fill="none" stroke="#1c1c1c" stroke-width="0.8"/>
<path d="M69.9,286 L68.1,293.5 L69.9,300 A15.5,7.5 0 0 0 100.9,298 L100.9,285 Z" fill="#fff" stroke="#1c1c1c" stroke-width="1.1" />
<path d="M68.1,293.5 A16,7.5 0 0 0 100.9,291.5" fill="none" stroke="#1c1c1c" stroke-width="0.9" />
<path d="M70.5,301.5 A15.5,7 0 0 0 99.5,301" fill="none" stroke="#1c1c1c" stroke-width="0.9" />
<ellipse cx="85.3" cy="286.5" rx="15.6" ry="9.3" fill="#fff" stroke="#1c1c1c" stroke-width="1.1"/>
<ellipse cx="85.9" cy="285.3" rx="12.4" ry="7.6" fill="none" stroke="#1c1c1c" stroke-width="1"/>
<polyline points="100.5,280 130,279.8 130,297 127.8,297" fill="none" stroke="#3c3c3c" stroke-width="1.05"/>
<line x1="130" y1="288" x2="141" y2="288" stroke="#3c3c3c" stroke-width="1.05"/>
<line x1="83.2" y1="305.5" x2="80.6" y2="322.5" stroke="#1c1c1c" stroke-width="0.8" stroke-dasharray="7 2"/>
<path d="M68.1,316.2 L68.3,324 A13.3,7 0 0 0 94.7,324 L94.7,316.2" fill="#fff" stroke="#1c1c1c" stroke-width="1.2" />
<ellipse cx="81.4" cy="316.2" rx="13.3" ry="7" fill="#fff" stroke="#1c1c1c" stroke-width="1.2"/>
<ellipse cx="81.4" cy="316.5" rx="11" ry="5.3" fill="none" stroke="#1c1c1c" stroke-width="1.6" stroke-dasharray="1.6 1.2"/>
<ellipse cx="81.4" cy="317" rx="9.3" ry="4.2" fill="none" stroke="#1c1c1c" stroke-width="0.8"/>
<line x1="83.2" y1="305.5" x2="81.5" y2="316" stroke="#1c1c1c" stroke-width="0.8"/>
<line x1="108.5" y1="298.5" x2="95" y2="314.3" stroke="#3c3c3c" stroke-width="1.05"/>
<ellipse cx="77.1" cy="342.8" rx="13.5" ry="7.5" fill="none" stroke="#1c1c1c" stroke-width="1"/>
<ellipse cx="77.1" cy="342.8" rx="12" ry="6.2" fill="none" stroke="#1c1c1c" stroke-width="0.9"/>
<rect x="78" y="333.5" width="4.5" height="4" fill="#fff"/>
<path d="M78,335.4 l0.3,1.6 M82.5,335.8 l-0.5,1.5" fill="none" stroke="#1c1c1c" stroke-width="0.9" />
<line x1="91" y1="343.3" x2="96.3" y2="343.3" stroke="#3c3c3c" stroke-width="1.05"/>
<line x1="79.6" y1="329" x2="76" y2="366" stroke="#1c1c1c" stroke-width="0.8" stroke-dasharray="9 2 1.5 2"/>
<line x1="132.6" y1="323.5" x2="132.6" y2="334.6" stroke="#3c3c3c" stroke-width="1.05"/>
<line x1="120.4" y1="334.6" x2="120.4" y2="343.5" stroke="#3c3c3c" stroke-width="1.05"/>
<g transform="translate(125 344.3) rotate(-27.8)"><path d="M0,-1.7 L10.4,-1.7 L10.4,-2.5 Q10.4,-3.3 11.2,-3.3 L13.8,-3.3 Q15.0,-3.3 15.0,-1.9 L15.0,1.9 Q15.0,3.3 13.8,3.3 L11.2,3.3 Q10.4,3.3 10.4,2.5 L10.4,1.7 L0,1.7 Q-0.8,0 0,-1.7 Z" fill="#fff" stroke="#1c1c1c" stroke-width="1.1"/><path d="M1.6,-1.7 L1.6,1.7 M3.3,-1.7 L3.3,1.7 M5.0,-1.7 L5.0,1.7 M6.7,-1.7 L6.7,1.7 M8.4,-1.7 L8.4,1.7" fill="none" stroke="#1c1c1c" stroke-width="0.8"/><path d="M12.0,-1.2999999999999998 L15.0,-1.2999999999999998" fill="none" stroke="#1c1c1c" stroke-width="0.7"/></g>
<ellipse cx="120.8" cy="346.4" rx="2.4" ry="2.8" fill="#fff" stroke="#1c1c1c" stroke-width="1.6"/>
<polyline points="117.5,349.8 129.5,358.4 134,355" fill="none" stroke="#1c1c1c" stroke-width="0.8" stroke-dasharray="5 2"/>
<path d="M147,300.5 Q150,298.5 153,300.5 L153.2,307.5 L151.5,309 L151.3,313.5 L148.9,313.8 L148.6,309 L146.8,307.5 Z" fill="#fff" stroke="#1c1c1c" stroke-width="1" />
<path d="M153,301 L156.5,300.3 Q158.3,301 158,303 Q157.5,304.3 155.5,304.2 L153.2,304.2 Z" fill="#333" stroke="#1c1c1c" stroke-width="1" />
<path d="M146.8,305.5 h6.4 M148.6,309 h3 M148.8,311.3 h2.6" fill="none" stroke="#1c1c1c" stroke-width="0.8" />
<line x1="158.5" y1="305.8" x2="183" y2="305.8" stroke="#1c1c1c" stroke-width="0.9" stroke-dasharray="9 2 2 2"/>
<line x1="150" y1="314.5" x2="149.5" y2="318.5" stroke="#1c1c1c" stroke-width="0.8" stroke-dasharray="2 1.2"/>
<polyline points="204,305.7 208.6,305.7 208.6,400 206,400" fill="none" stroke="#3c3c3c" stroke-width="1.05"/>
<line x1="157" y1="322" x2="208.6" y2="322" stroke="#3c3c3c" stroke-width="1.05"/>
<line x1="208.6" y1="333" x2="216.5" y2="333" stroke="#3c3c3c" stroke-width="1.05"/>
<path d="M206,357.5 h2.6 M206,361.5 h2.6 M207,372 h1.6 M207,383.5 h1.6" fill="none" stroke="#3c3c3c" stroke-width="1.05" />
<path d="M156,328.5 L167,334.3 L166,337 L155,331.5 Z" fill="#fff" stroke="#1c1c1c" stroke-width="1" />
<path d="M158,329.8 l-1,2.4 M160,330.8 l-1,2.4 M162,331.8 l-1,2.4 M164,332.8 l-1,2.4 M166,333.8 l-1,2.4" fill="none" stroke="#1c1c1c" stroke-width="0.8" />
<ellipse cx="169.8" cy="338" rx="3.3" ry="3" fill="#fff" stroke="#1c1c1c" stroke-width="1.2"/>
<ellipse cx="169.8" cy="338" rx="1.5" ry="1.3" fill="none" stroke="#1c1c1c" stroke-width="0.8"/>
<path d="M142.4,322 Q142.2,318.8 149,318.6 Q156,318.8 156.1,322 L156.3,328 Q155.5,332.5 151.5,334 L150.5,334.5 L150.3,339.5 L147.2,339.5 L147,334.5 Q142.5,332.5 142.3,328 Z" fill="#fff" stroke="#1c1c1c" stroke-width="1.1" />
<path d="M142.4,322 Q143,325 149,325.2 Q155.5,325 156.1,322 M147,334.5 Q149,335.2 150.5,334.5 M147.1,337 h3.2" fill="none" stroke="#1c1c1c" stroke-width="0.9" />
<ellipse cx="149" cy="321.5" rx="1" ry="0.7" fill="#333" stroke="#1c1c1c" stroke-width="0.9"/>
<polyline points="176,335.8 186.4,331.7" fill="none" stroke="#3c3c3c" stroke-width="1.05"/>
<line x1="149.2" y1="340.5" x2="149.4" y2="342.5" stroke="#1c1c1c" stroke-width="0.8"/>
<path d="M144.6,345.4 L145.5,350 Q149.6,353.5 153.8,350 L154.7,345.4 Z" fill="#fff" stroke="#1c1c1c" stroke-width="1.1" />
<ellipse cx="149.6" cy="345.4" rx="5" ry="2.8" fill="#fff" stroke="#1c1c1c" stroke-width="1.2"/>
<ellipse cx="149.6" cy="345.8" rx="3" ry="1.5" fill="none" stroke="#1c1c1c" stroke-width="0.8"/>
<polyline points="154.3,350 168,359.5 186,361" fill="none" stroke="#3c3c3c" stroke-width="1.05"/>
<ellipse cx="149.3" cy="372.5" rx="3.3" ry="1.9" fill="#fff" stroke="#1c1c1c" stroke-width="1.8"/>
<line x1="154" y1="372.3" x2="184" y2="372.3" stroke="#3c3c3c" stroke-width="1.05"/>
<path d="M143.8,379 Q143.8,376.3 149.3,376.3 Q155,376.3 155,379 L154.3,382.5 Q149.3,386 144.5,382.5 Z" fill="#fff" stroke="#1c1c1c" stroke-width="1.3" />
<ellipse cx="149.3" cy="378.8" rx="2.6" ry="1.4" fill="#555" stroke="#1c1c1c" stroke-width="1.2"/>
<line x1="155.3" y1="382.2" x2="186" y2="383.3" stroke="#3c3c3c" stroke-width="1.05"/>
<path d="M141.5,385 L156,391.3 Q158.8,391.6 158.8,393.3 Q158.3,394.6 156.3,394 L141.3,387 Z" fill="#fff" stroke="#1c1c1c" stroke-width="1" />
<path d="M143,386.5 L156,392.5" fill="none" stroke="#444" stroke-width="1.4" stroke-dasharray="1.5 1" />
<polyline points="158.8,393.6 169,399.4 187,399.4" fill="none" stroke="#3c3c3c" stroke-width="1.05"/>
<path d="M177.8,338.6 Q174.8,339.6 175.8,342.8 L239,381 Q241.5,381.6 242.6,379.2 Q243.4,376.6 241.6,375.4 Z" fill="#fff" stroke="none" stroke-width="0" />
<path d="M207,355.6 L177.8,338.6 Q174.8,339.6 175.8,342.8 L204.5,360" fill="none" stroke="#1c1c1c" stroke-width="1.1" stroke-dasharray="5 2" />
<path d="M208.5,356.5 L241.6,375.4 Q243.4,376.6 242.6,379.2 Q241.5,381.6 239,381 L206,361" fill="none" stroke="#1c1c1c" stroke-width="1.1" />
<path d="M204,357.2 l2.5,-0.8 M205,361.3 l2.5,-0.5" fill="none" stroke="#1c1c1c" stroke-width="1.6" />
<path d="M245,377.6 Q242.8,378.8 243.6,381.6 L256.3,389.8 Q259,390.4 260.2,388 Q261,385.4 258.8,384.1 L247.2,377.4 Q246,377.1 245,377.6 Z" fill="#fff" stroke="#1c1c1c" stroke-width="1.1" />
<ellipse cx="258.3" cy="387" rx="1.4" ry="2.2" fill="none" stroke="#1c1c1c" stroke-width="0.9" transform="rotate(-30 258.3 387)"/>
<line x1="247.3" y1="362" x2="247.3" y2="380" stroke="#3c3c3c" stroke-width="1.05"/>
<line x1="269" y1="379" x2="269" y2="388" stroke="#3c3c3c" stroke-width="1.05"/>
<path d="M264.3,391.5 l2.5,-2.5 l3.3,0.6 l1.2,2.6 l-1.6,3 l-3.5,0 z" fill="#fff" stroke="#1c1c1c" stroke-width="1.3" />
<ellipse cx="267.6" cy="392.6" rx="1.3" ry="1.5" fill="none" stroke="#1c1c1c" stroke-width="0.9"/>
<ellipse cx="237" cy="338.2" rx="0.9" ry="0.9" fill="#222" stroke="#1c1c1c" stroke-width="0.5"/>
<polyline points="236.2,337.4 238.5,340.5" fill="none" stroke="#1c1c1c" stroke-width="1"/>
<path d="M128.6,366 L147,357.3 Q150,355.8 153,357 Q156,359 155.6,362 Q155,364.5 152.5,365.8 L133,375.5 Z" fill="#fff" stroke="#1c1c1c" stroke-width="1" />
<ellipse cx="151.8" cy="360.5" rx="2.6" ry="2" fill="none" stroke="#1c1c1c" stroke-width="0.9" transform="rotate(-20 151.8 360.5)"/>
<polyline points="131,369.5 149,361.5" fill="none" stroke="#1c1c1c" stroke-width="0.8"/>
<polyline points="133.5,373.8 151.5,364.8" fill="none" stroke="#444" stroke-width="2"/>
<path d="M116.3,363.5 L120,360.3 L122.5,360 L134.2,366.6 L134.4,381.5 L132,383.8 L130.3,384 L116.2,374.6 Z" fill="#fff" stroke="#1c1c1c" stroke-width="1.1" />
<path d="M116.3,363.5 Q118,363 119,363.6 L130.6,369.6 Q131.7,370.3 131.7,372 L132,383.8 M131.2,369.9 L134.2,366.6" fill="none" stroke="#1c1c1c" stroke-width="0.9" />
<ellipse cx="119.3" cy="366.3" rx="1.2" ry="1.5" fill="none" stroke="#1c1c1c" stroke-width="0.8"/>
<ellipse cx="128" cy="371" rx="1.2" ry="1.5" fill="none" stroke="#1c1c1c" stroke-width="0.8"/>
<ellipse cx="119" cy="372.8" rx="1.2" ry="1.5" fill="none" stroke="#1c1c1c" stroke-width="0.8"/>
<ellipse cx="128" cy="379.5" rx="1.2" ry="1.5" fill="none" stroke="#1c1c1c" stroke-width="0.8"/>
<polyline points="127.5,386.7 134.4,399.4" fill="none" stroke="#3c3c3c" stroke-width="1.05"/>
<path d="M111,401 L133.6,399.5 L188.7,424.8 L197.9,423.6 Q205,424.5 209.4,427 Q216,431 220.9,436.2 Q227,442 232.3,449 L146.2,449 L108.6,427 Z" fill="#fff" stroke="none" stroke-width="0" />
<polyline points="115,400.7 133.6,402.3" fill="none" stroke="#1c1c1c" stroke-width="0.9"/>
<polyline points="133.6,402.3 188.7,424.8" fill="none" stroke="#1c1c1c" stroke-width="0.9" stroke-dasharray="14 2 1.5 2"/>
<path d="M188.7,424.8 L197.9,423.6 Q205,424.5 209.4,427 Q216,431 220.9,436.2 Q227,442 232.3,449" fill="none" stroke="#1c1c1c" stroke-width="0.9" stroke-dasharray="20 2" />
<path d="M206,430 Q216,434 227.7,447" fill="none" stroke="#1c1c1c" stroke-width="0.8" stroke-dasharray="12 3" />
<polyline points="111,410.7 165.8,436.1" fill="none" stroke="#1c1c1c" stroke-width="1"/>
<polyline points="111,413.9 161.2,438" fill="none" stroke="#1c1c1c" stroke-width="0.9"/>
<polyline points="108.6,427.2 146.2,449" fill="none" stroke="#1c1c1c" stroke-width="1"/>
<polyline points="165.8,436.1 188.7,442.5 204.8,449" fill="none" stroke="#1c1c1c" stroke-width="0.9"/>
<polyline points="118.9,436.7 118.9,449" fill="none" stroke="#1c1c1c" stroke-width="0.9"/>
<path d="M163.5,437.5 L166,435.5 L183,443.5 L182,446.8 L180,447 Z" fill="#555" stroke="#1c1c1c" stroke-width="0.9" />
<path d="M165,438.5 L181,446" fill="none" stroke="#ddd" stroke-width="0.8" stroke-dasharray="1 1" />
<path d="M100.7,400.5 L113.3,396.3 L118.9,389.4 Q122,388 125.2,389.4 L128.3,393.4 L127.5,399.7 L115,401 L108.6,427.2 L107,428.8 L104.7,432 Q102.5,432.8 100.7,430.4 Q98.3,427.5 97.6,422.5 L96.8,411.5 Q97.5,405 100.7,400.5 Z" fill="#fff" stroke="#1c1c1c" stroke-width="1.1" />
<path d="M105.5,402 Q103.5,407 103.9,411.5 L104.7,421 Q105.5,426 107,428.8" fill="none" stroke="#1c1c1c" stroke-width="1" />
<path d="M105.5,402 Q108.5,399.8 111,402.5 M100.7,400.5 Q103,399.3 105.5,402" fill="none" stroke="#1c1c1c" stroke-width="0.9" />
<path d="M110.5,401.5 Q108.3,406 108.6,412 L108.6,427.2" fill="none" stroke="#1c1c1c" stroke-width="0.9" />
<path d="M113.3,396.3 Q117,398.5 121,397.5 L127.5,399.7" fill="none" stroke="#1c1c1c" stroke-width="0.8" />
<path d="M116,393.5 l5,-2 M119.5,395.5 l4.5,-2" fill="none" stroke="#1c1c1c" stroke-width="0.7" />
<ellipse cx="102.4" cy="403.8" rx="1.8" ry="2" fill="#fff" stroke="#1c1c1c" stroke-width="1"/>
<ellipse cx="100.2" cy="417.8" rx="1.3" ry="1.6" fill="#fff" stroke="#1c1c1c" stroke-width="0.9"/>
<ellipse cx="103" cy="428.6" rx="1.3" ry="1.5" fill="#fff" stroke="#1c1c1c" stroke-width="0.9"/>
<ellipse cx="121" cy="392" rx="1.2" ry="0.9" fill="none" stroke="#1c1c1c" stroke-width="0.8"/>
<ellipse cx="125.5" cy="393.5" rx="1" ry="0.8" fill="none" stroke="#1c1c1c" stroke-width="0.8"/>
<path d="M61.9,362.5 L61.9,367.5 L57.5,371.5 L56.4,390.3 L47.4,397 L46.3,414.9 L52.5,421.6 L49.7,427.2 L51.9,444 L53,449 L81,449 L82.1,432.8 L80,420 L88.8,390 L88.5,362.5 Z" fill="#fff" stroke="#1c1c1c" stroke-width="1" />
<ellipse cx="75.2" cy="362.5" rx="13.3" ry="7.8" fill="#fff" stroke="#1c1c1c" stroke-width="1.1"/>
<ellipse cx="75.4" cy="362.8" rx="10.2" ry="5.4" fill="none" stroke="#1c1c1c" stroke-width="1"/>
<path d="M66.5,365 A9.5,4.6 0 0 1 84.5,365" fill="none" stroke="#1c1c1c" stroke-width="0.8" />
<path d="M61.9,367.5 A13.5,7 0 0 0 88.6,367.5" fill="none" stroke="#1c1c1c" stroke-width="0.9" />
<path d="M57.5,371.5 A17,8 0 0 0 89,374" fill="none" stroke="#1c1c1c" stroke-width="0.9" />
<path d="M57.3,375 A17,8 0 0 0 80,382.5" fill="none" stroke="#1c1c1c" stroke-width="0.9" />
<path d="M56.4,390.3 Q62,396 71,397.5" fill="none" stroke="#1c1c1c" stroke-width="0.9" />
<path d="M47.4,397 Q56,406 70.5,408" fill="none" stroke="#1c1c1c" stroke-width="0.9" />
<path d="M47,401.5 Q56,410 71,412" fill="none" stroke="#1c1c1c" stroke-width="0.9" />
<path d="M46.3,414.9 Q60,427.5 80,421" fill="none" stroke="#1c1c1c" stroke-width="1" />
<path d="M52.5,421.6 Q64,429 80.5,424.5" fill="none" stroke="#1c1c1c" stroke-width="0.9" />
<path d="M49.7,427.2 Q50,432 52,436" fill="none" stroke="#1c1c1c" stroke-width="0.8" />
<path d="M51.9,444 Q66,449.5 81,446.5" fill="none" stroke="#1c1c1c" stroke-width="0.9" />
<path d="M58,383 l1,5 M60,399 l0.5,4 M63,404.5 l4,1 M57,413 l3,2 M63,416 l5,1.5 M59,431 l0,6" fill="none" stroke="#1c1c1c" stroke-width="0.9" />
<ellipse cx="60.3" cy="392.5" rx="1.6" ry="1.6" fill="#fff" stroke="#1c1c1c" stroke-width="0.9"/>
<ellipse cx="57" cy="388" rx="1.2" ry="1.2" fill="none" stroke="#1c1c1c" stroke-width="0.8"/>
<line x1="76" y1="366" x2="75.5" y2="372" stroke="#1c1c1c" stroke-width="0.8"/>
<path d="M69.8,391.4 Q70,389.5 72,388 L94.5,371.8 Q97.5,370 99.5,371.8 L105.3,382.5 Q106.5,385 105.8,388 L103.3,398.5 Q102.8,400.8 100.8,402.2 L82,414.8 Q80,416 77.5,414.7 L72.5,412 Q70.5,411 70.5,409 Z" fill="#fff" stroke="#1c1c1c" stroke-width="1.1" />
<path d="M72.3,392.5 Q72.4,391 74,389.8 L94.5,375 Q96.8,373.5 98.3,375 L102.8,383.5 Q103.6,385.3 103.2,387.3 L101,397.3 Q100.6,399 99,400.2 L81.5,412 Q80,413 78.3,412.2 L74,410 Q72.8,409.2 72.8,407.8 Z" fill="none" stroke="#1c1c1c" stroke-width="0.9" />
<ellipse cx="85.7" cy="395.8" rx="8.3" ry="12.6" fill="none" stroke="#1c1c1c" stroke-width="1.1" transform="rotate(22 85.7 395.8)"/>
<ellipse cx="86" cy="395.8" rx="6.4" ry="10.4" fill="none" stroke="#1c1c1c" stroke-width="1.8" transform="rotate(22 86 395.8)" stroke-dasharray="1.5 1.1"/>
<ellipse cx="86.2" cy="395.8" rx="4" ry="7.2" fill="#fff" stroke="#1c1c1c" stroke-width="1" transform="rotate(22 86.2 395.8)"/>
<ellipse cx="97.3" cy="377.5" rx="1.1" ry="1.4" fill="#fff" stroke="#1c1c1c" stroke-width="1"/>
<ellipse cx="101.8" cy="386.3" rx="1.1" ry="1.4" fill="#fff" stroke="#1c1c1c" stroke-width="1"/>
<ellipse cx="78.3" cy="390.5" rx="1.1" ry="1.4" fill="#fff" stroke="#1c1c1c" stroke-width="1"/>
<ellipse cx="75" cy="404.5" rx="1.1" ry="1.4" fill="#fff" stroke="#1c1c1c" stroke-width="1"/>
<ellipse cx="81" cy="409.5" rx="1.1" ry="1.4" fill="#fff" stroke="#1c1c1c" stroke-width="1"/>
<ellipse cx="99" cy="397.5" rx="1.1" ry="1.4" fill="#fff" stroke="#1c1c1c" stroke-width="1"/>
<path d="M86.6,392 L98.9,397.8 L96,405 L86.6,400.5 Q84.5,396 86.6,392 Z" fill="#fff" stroke="#1c1c1c" stroke-width="1" />
<path d="M35.2,375.2 L55.4,362.4 L61.5,365 L57.5,372 L47,381 L47,391.5 L38.4,397.8 L32,395.4 L31,380.5 Z" fill="#fff" stroke="#1c1c1c" stroke-width="1.1" />
<polyline points="35.2,375.2 41,378 57.5,368.5" fill="none" stroke="#1c1c1c" stroke-width="0.9"/>
<polyline points="41,378 41,381" fill="none" stroke="#1c1c1c" stroke-width="0.8"/>
<ellipse cx="40.5" cy="374.6" rx="1" ry="0.8" fill="none" stroke="#1c1c1c" stroke-width="0.8"/>
<ellipse cx="58.2" cy="365.2" rx="1.2" ry="1" fill="none" stroke="#1c1c1c" stroke-width="0.9"/>
<ellipse cx="38.4" cy="388.3" rx="4.4" ry="5.4" fill="none" stroke="#1c1c1c" stroke-width="1.2" transform="rotate(10 38.4 388.3)"/>
<path d="M35.5,385 Q35,389 37,392" fill="none" stroke="#1c1c1c" stroke-width="0.8" />
<path d="M47,381 Q51,384.5 56.5,383" fill="none" stroke="#1c1c1c" stroke-width="0.9" />
<ellipse cx="48.5" cy="378.3" rx="1.3" ry="1.1" fill="none" stroke="#1c1c1c" stroke-width="0.9"/>
<ellipse cx="49" cy="387" rx="1.2" ry="1.1" fill="none" stroke="#1c1c1c" stroke-width="0.9"/>
<path d="M31,380 L22.6,399.5 L19.3,410.3 L20.3,418.8 L24.6,426" fill="none" stroke="#1c1c1c" stroke-width="1.1" />
<path d="M33.5,381.5 L25.3,400.5 L22.3,410.5 L23.3,417.5 L26.5,423.5" fill="none" stroke="#1c1c1c" stroke-width="1" />
<path d="M29,385.5 l2.6,1 M27,390.3 l2.6,1 M25,395 l2.6,1 M23,399.8 l2.6,1 M21.5,404.5 l2.8,0.8 M20.3,409.5 l2.8,0.6" fill="none" stroke="#1c1c1c" stroke-width="0.8" />
<path d="M19.3,410.3 Q17.3,414 19.3,419 Q21.5,423 22.5,428 L23.5,434" fill="none" stroke="#1c1c1c" stroke-width="1.4" />
<path d="M24.6,405 L31,408.2 L31,416.7 L26.7,418.8" fill="none" stroke="#1c1c1c" stroke-width="1" />
<path d="M38.4,397.8 L33,404 L31,408.2" fill="none" stroke="#1c1c1c" stroke-width="0.9" />
<path d="M46.9,396.5 Q42,403 40.5,410.3 Q38.5,418 38.4,425.2" fill="none" stroke="#1c1c1c" stroke-width="0.9" />
<path d="M31,416.7 Q33,419 31.5,422" fill="none" stroke="#1c1c1c" stroke-width="0.9" />
<path d="M49,421 Q46.5,425 46.9,428.4 L50.1,431.6" fill="none" stroke="#1c1c1c" stroke-width="0.9" />
<text x="314.0" y="16.0" class="lb">10</text>
<text x="320.2" y="49.0" class="lb">9</text>
<text x="147.5" y="81.0" class="lb">8</text>
<text x="240.3" y="135.5" class="lb">5</text>
<text x="321.9" y="134.0" class="lb">1</text>
<text x="243.3" y="161.0" class="lb">16</text>
<text x="261.3" y="185.0" class="lb">13</text>
<text x="230.3" y="214.0" class="lb">12</text>
<text x="262.3" y="208.0" class="lb">17</text>
<text x="333.9" y="100.3" class="lb">35</text>
<text x="371.3" y="114.3" class="lb">36</text>
<text x="344.9" y="131.3" class="lb">39</text>
<text x="470.1" y="68.7" class="lb">40</text>
<text x="470.1" y="85.6" class="lb">41</text>
<text x="408.3" y="157.0" class="lb">44</text>
<text x="390.3" y="166.0" class="lb">45</text>
<text x="413.5" y="209.0" class="lb">42</text>
<text x="395.0" y="247.0" class="lb">31</text>
<text x="331.3" y="318.2" class="lb">27</text>
<text x="350.3" y="332.2" class="lb">26</text>
<text x="370.3" y="345.0" class="lb">25</text>
<text x="403.6" y="363.6" class="lb">24</text>
<text x="451.3" y="260.0" class="lb">30</text>
<text x="482.3" y="278.0" class="lb">34</text>
<text x="500.8" y="287.0" class="lb">33</text>
<text x="455.7" y="395.7" class="lb">32</text>
<text x="479.8" y="402.0" class="lb">23</text>
<text x="505.3" y="422.0" class="lb">22</text>
<text x="531.3" y="435.5" class="lb">29</text>
<text x="549.3" y="448.0" class="lb">28</text>
<text x="345.8" y="354.0" class="lb">11</text>
<text x="359.3" y="381.6" class="lb">18</text>
<text x="359.3" y="402.0" class="lb">19</text>
<text x="361.3" y="423.0" class="lb">20</text>
<text x="364.9" y="439.8" class="lb">21</text>
<text x="23.0" y="272.0" class="lb">40</text>
<text x="23.0" y="288.0" class="lb">41</text>
<text x="112.9" y="299.0" class="lb">38</text>
<text x="98.8" y="346.0" class="lb">39</text>
<text x="126.2" y="317.8" class="lb">44</text>
<text x="112.1" y="328.2" class="lb">45</text>
<text x="186.9" y="307.0" class="lb">56</text>
<text x="189.3" y="335.7" class="lb">47</text>
<text x="219.3" y="336.0" class="lb">49</text>
<text x="241.0" y="336.0" class="lb">55</text>
<text x="241.0" y="354.0" class="lb">46</text>
<text x="187.3" y="360.0" class="lb">57</text>
<text x="189.3" y="373.0" class="lb">60</text>
<text x="191.3" y="384.6" class="lb">58</text>
<text x="191.3" y="402.0" class="lb">59</text>
<text x="138.6" y="403.5" class="lb">43</text>
<text x="261.3" y="372.0" class="lb">48</text>
<circle cx="150.6" cy="287.4" r="7.2" fill="#d8b13b"/>
<text x="150.6" y="290.5" text-anchor="middle" class="lb" style="fill:#f3e3b0;stroke:none">37</text>
<rect x="29" y="424" width="18" height="20" rx="1.5" fill="#fdfdfb" stroke="#e3e5df" stroke-width="1"/>
<polyline points="34,429 40,434.5 34,440" fill="none" stroke="#4f6560" stroke-width="2.6" stroke-linecap="butt" stroke-linejoin="miter"/>
</svg></div></body></html>
